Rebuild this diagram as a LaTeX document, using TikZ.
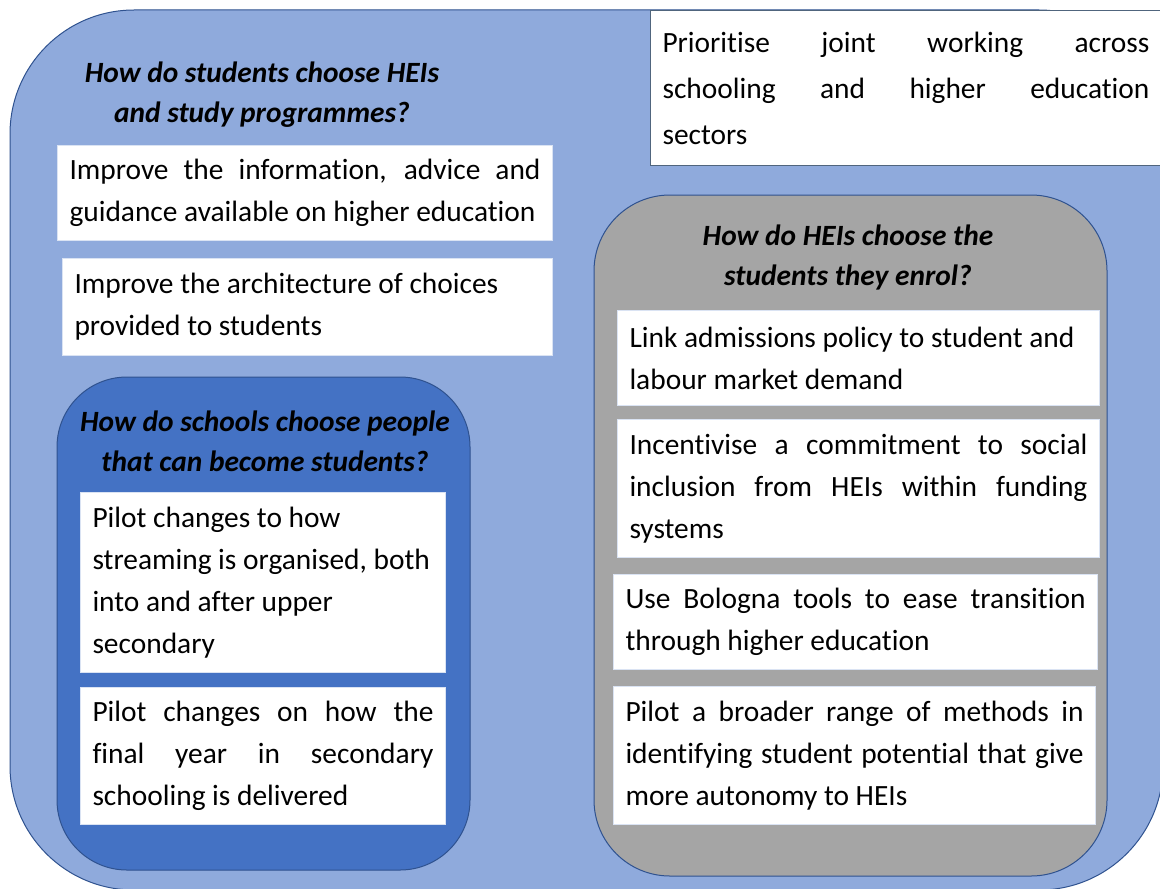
\documentclass[tikz,border=0pt]{standalone}
\usepackage{fontspec}
\setmainfont[Ligatures=NoCommon]{Carlito}
\hyphenpenalty=10000
\exhyphenpenalty=10000
\tolerance=10000

\definecolor{outerblue}{HTML}{8FAADC}
\definecolor{innerblue}{HTML}{4472C4}
\definecolor{innergray}{HTML}{A5A5A5}
\definecolor{edgeblue}{HTML}{2F528F}
\definecolor{itemedge}{HTML}{DAE3F3}
\definecolor{topedge}{HTML}{50657D}

\begin{document}
\begin{tikzpicture}[x=0.5pt, y=-0.5pt,
		item/.style={fill=white, draw=itemedge, line width=0.5pt, anchor=north west, inner xsep=6pt, inner ysep=1pt, align=justify, font=\fontsize{14.7}{21}\selectfont},
		question/.style={align=center, font=\fontsize{14.7}{20}\selectfont\bfseries\itshape}]
		\useasboundingbox (0,0) rectangle (1160,888);
		\clip (0,0) rectangle (1160,888);
		\draw[fill=outerblue, draw=edgeblue, line width=0.5pt, rounded corners=62pt] (10,10) rectangle (1163,890);
		\draw[fill=innerblue, draw=edgeblue, line width=0.5pt, rounded corners=35pt] (57,377) rectangle (470,870);
		\draw[fill=innergray, draw=edgeblue, line width=0.5pt, rounded corners=38pt] (594,195) rectangle (1107,876);

		\node[item, draw=topedge, text width=243.5pt, minimum height=77.5pt, font=\fontsize{14.7}{23}\selectfont] (joint) at (650,10) {Prioritise joint working across\linebreak schooling and higher education\linebreak sectors};

		\node[question] (qstudents) at (262,95) {How do students choose HEIs\\and study programmes?};
		\node[item, text width=235.5pt, minimum height=47.5pt] (info) at (57,145) {Improve the information, advice and\linebreak guidance available on higher education};
		\node[item, align=flush left, text width=233pt, minimum height=48.5pt] (archi) at (62,258) {Improve the architecture of choices\\provided to students};

		\node[question] (qschools) at (265,441) {How do schools choose people\\that can become students?};
		\node[item, align=flush left, text width=170.5pt, minimum height=90pt] (stream) at (80,492) {Pilot changes to how\\streaming is organised, both\\into and after upper\\secondary};
		\node[item, text width=170.5pt, minimum height=68.5pt] (final) at (80,687) {Pilot changes on how the\linebreak final year in secondary\linebreak schooling is delivered};

		\node[question] (qheis) at (848,257) {How do HEIs choose the\\students they enrol?};
		\node[item, align=flush left, text width=229pt, minimum height=47.5pt] (link) at (617,310) {Link admissions policy to student and\\labour market demand};
		\node[item, text width=229pt, minimum height=69pt] (incent) at (617,419) {Incentivise a commitment to social\linebreak inclusion from HEIs within funding\linebreak systems};
		\node[item, text width=230pt, minimum height=47.5pt] (bologna) at (613,574) {Use Bologna tools to ease transition\linebreak through higher education};
		\node[item, text width=229pt, minimum height=69pt] (pilot) at (613,686) {Pilot a broader range of methods in\linebreak identifying student potential that give\linebreak more autonomy to HEIs};
	\end{tikzpicture}
\end{document}
